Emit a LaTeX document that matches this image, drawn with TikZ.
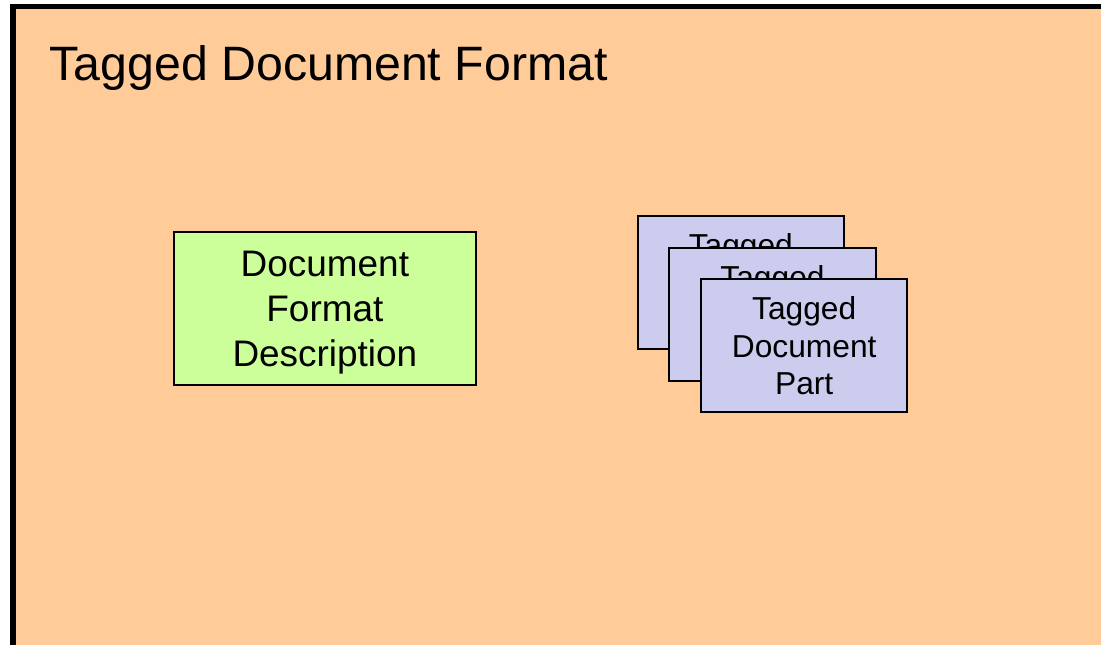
\documentclass[tikz,border=0pt]{standalone}
\usepackage{fontspec}
\setmainfont{Liberation Sans}
\definecolor{peach}{HTML}{FFCC99}
\definecolor{mintgreen}{HTML}{CCFF99}
\definecolor{lavender}{HTML}{CCCCEE}
\tikzset{
    formatbox/.style={draw, rectangle, line width=1.5pt, fill=mintgreen, align=center,
        minimum width=226.7pt, minimum height=114.5pt, inner sep=0pt, text depth=0pt,
        font=\fontsize{27.7}{33.75}\selectfont},
    partbox/.style={draw, rectangle, line width=1.5pt, fill=lavender, align=center,
        minimum width=154.7pt, minimum height=99.75pt, inner sep=0pt, text depth=0pt,
        font=\fontsize{23.8}{28.1}\selectfont}
}
\begin{document}
\begin{tikzpicture}[x=0.75pt, y=-0.75pt]
    \useasboundingbox (0,0) rectangle (1101,644);
    \clip (0,0) rectangle (1101,644);

    % Frame
    \draw[line width=4.1pt, fill=peach] (13,6.5) rectangle (1130,680);
    \node[anchor=base west, inner sep=0pt, font=\fontsize{36.2}{45}\selectfont] (title) at (49.5,80) {Tagged Document Format};

    % Format description
    \node[formatbox] (format) at (324.9,308.4) {Document\\Format\\Description};

    % Stack of parts (the back ones are covered)
    \foreach \i in {0,1} {
        \node[partbox] (part\i) at (804.2-31.7*2+31.7*\i, 345.8-31.7*2+31.7*\i) {Tagged\\\phantom{Document}\\\phantom{Part}};
    }
    \node[partbox] (part2) at (804.2,345.8) {Tagged\\Document\\Part};
\end{tikzpicture}
\end{document}
